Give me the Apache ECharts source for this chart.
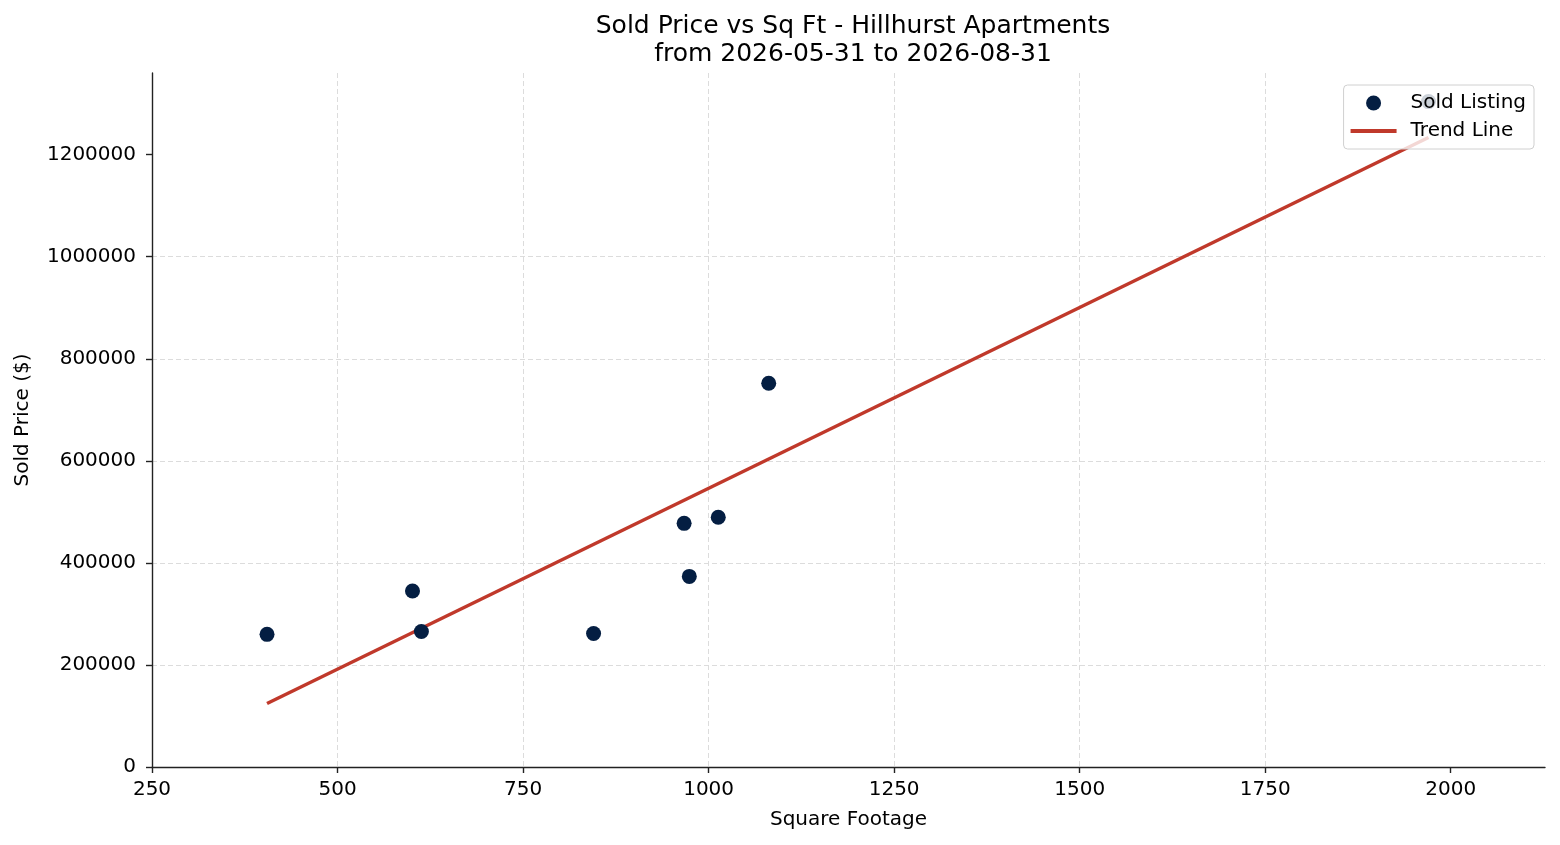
<!DOCTYPE html>
<html>
<head>
<meta charset="utf-8">
<script src="https://cdn.jsdelivr.net/npm/echarts@6/dist/echarts.min.js"></script>
<style>
  html, body { margin: 0; padding: 0; background: #fff; }
  #chart { width: 1560px; height: 845px; }
</style>
</head>
<body>
<div id="chart"></div>
<script>
// sold listings: square footage / sold price
const sqft = [405, 601, 613, 845, 967, 974, 1013, 1081, 1970]
const soldPrice = [260000, 345000, 265500, 261700, 477500, 373500, 489300, 752100, 1304000]
// trend line end points
const trendSqft = [405, 1970]
const trendPrice = [124500, 1233700]
// tick labels
const xTicks = [250, 500, 750, 1000, 1250, 1500, 1750, 2000]
const yTicks = [0, 200000, 400000, 600000, 800000, 1000000, 1200000]

const font = 'DejaVu Sans'

const chart = echarts.init(document.getElementById('chart'))

const axisCommon = {
  axisLine: { show: true, lineStyle: { color: '#222', width: 1.4 } },
  axisTick: { show: true, length: 6, lineStyle: { color: '#222', width: 1.4 } },
  axisLabel: { color: '#000', fontFamily: font, fontSize: 20, margin: 14, formatter: v => String(v) },
  splitLine: {
    show: true,
    showMinLine: false,
    showMaxLine: false,
    lineStyle: { color: '#dcdcdc', width: 1, type: [5, 3] }
  },
  nameLocation: 'middle',
  nameTextStyle: { color: '#000', fontFamily: font, fontSize: 20 }
}

chart.setOption({
  animation: false,
  backgroundColor: '#fff',
  title: {
    text: 'Sold Price vs Sq Ft - Hillhurst Apartments\nfrom 2026-05-31 to 2026-08-31',
    left: 848,
    top: 7,
    textAlign: 'center',
    textStyle: { color: '#000', fontFamily: font, fontSize: 25, fontWeight: 'normal', lineHeight: 28 }
  },
  legend: {
    orient: 'vertical',
    right: 26,
    top: 85,
    itemWidth: 46,
    itemHeight: 15,
    itemGap: 8,
    padding: [8, 8, 8, 7],
    backgroundColor: 'rgba(255,255,255,0.8)',
    borderColor: '#d0d0d0',
    borderWidth: 1,
    borderRadius: 4,
    textStyle: { color: '#000', fontFamily: font, fontSize: 20, padding: [0, 0, 0, 9] },
    data: [
      { name: 'Sold Listing', icon: 'circle' },
      { name: 'Trend Line', icon: 'path://M0,0 H46 V4 H0 Z' }
    ]
  },
  grid: { left: 152, right: 15, top: 73, bottom: 78 },
  xAxis: Object.assign({}, axisCommon, {
    type: 'value',
    min: 250,
    max: 2127,
    interval: 250,
    name: 'Square Footage',
    nameGap: 43,
    axisTick: Object.assign({}, axisCommon.axisTick, { customValues: xTicks }),
    axisLabel: Object.assign({}, axisCommon.axisLabel, { customValues: xTicks, margin: 13 })
  }),
  yAxis: Object.assign({}, axisCommon, {
    type: 'value',
    min: 0,
    max: 1360000,
    interval: 200000,
    name: 'Sold Price ($)',
    nameGap: 119,
    axisTick: Object.assign({}, axisCommon.axisTick, { customValues: yTicks }),
    axisLabel: Object.assign({}, axisCommon.axisLabel, { customValues: yTicks, margin: 16 })
  }),
  series: [
    {
      name: 'Sold Listing',
      type: 'scatter',
      symbolSize: 15,
      itemStyle: { color: '#041e42', opacity: 1 },
      data: sqft.map((x, i) => [x, soldPrice[i]]),
      z: 3
    },
    {
      name: 'Trend Line',
      type: 'line',
      symbol: 'none',
      lineStyle: { color: '#c0392b', width: 3.5 },
      itemStyle: { color: '#c0392b' },
      data: trendSqft.map((x, i) => [x, trendPrice[i]]),
      z: 2
    }
  ]
})
</script>
</body>
</html>
